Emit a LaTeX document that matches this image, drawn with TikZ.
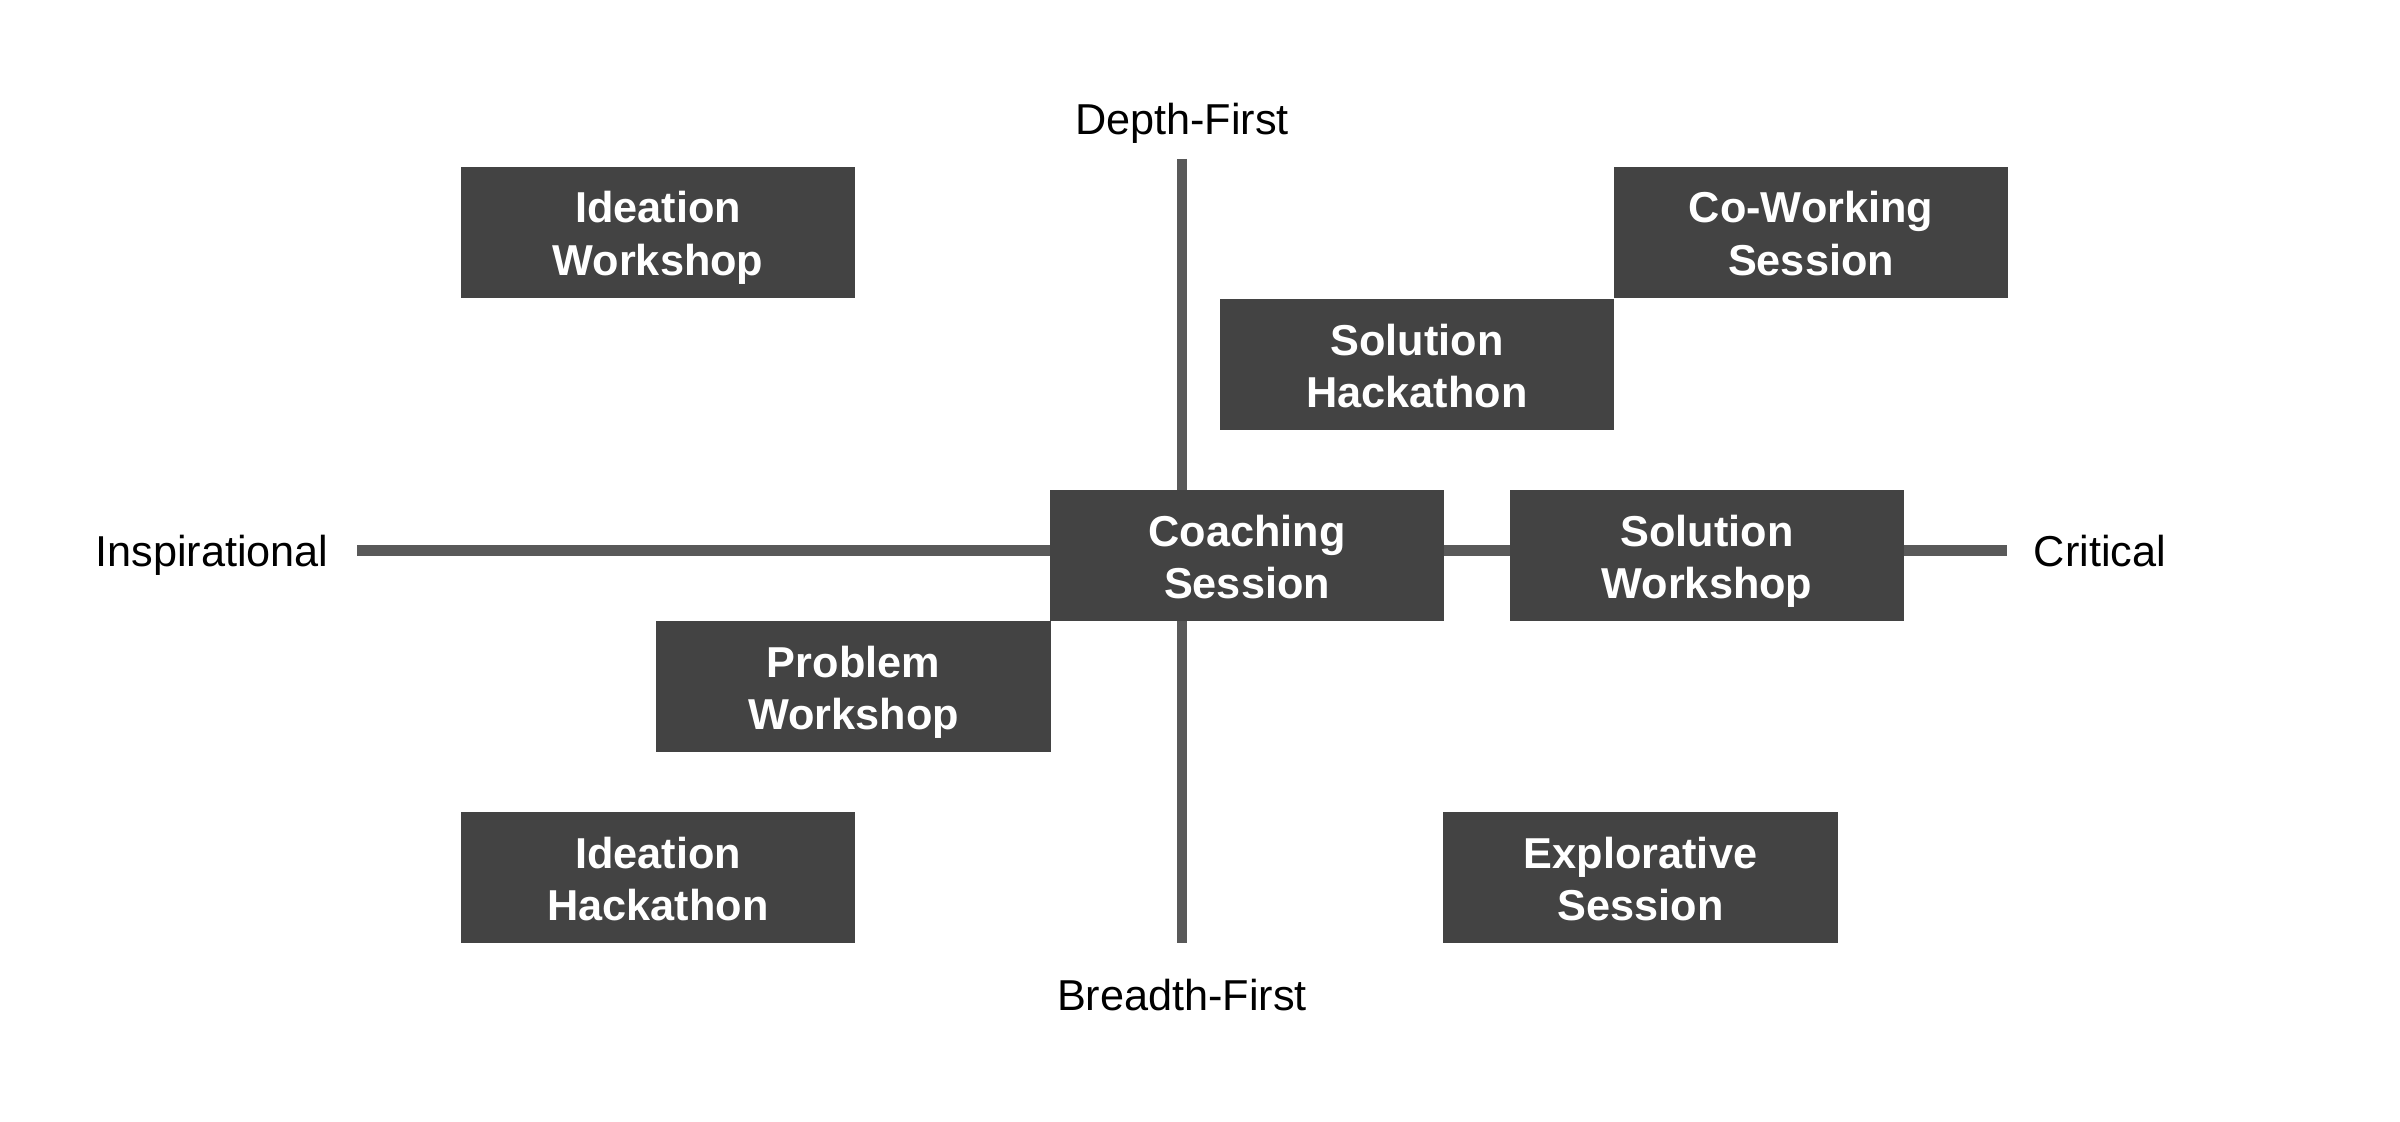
\documentclass[tikz,border=0pt]{standalone}
\usepackage{fontspec}
\setmainfont{Liberation Sans}
\usepackage{xcolor}
\definecolor{boxfill}{HTML}{434343}
\definecolor{axisgray}{HTML}{595959}
\newcommand{\lstrut}{\rule[-2.6pt]{0pt}{14.8pt}}

\begin{document}
\begin{tikzpicture}[x=0.01cm,y=-0.01cm,
  card/.style={fill=boxfill,text=white,minimum width=3.94cm,minimum height=1.31cm,
    inner sep=0pt,align=center,font=\fontsize{12.3}{15}\selectfont\bfseries},
  axislbl/.style={anchor=base,inner sep=0pt,font=\fontsize{12.3}{15}\selectfont}]
  \useasboundingbox (0,0) rectangle (2400,1122);

  % The two axes
  \coordinate (west) at (357,550.5);
  \coordinate (east) at (2007,550.5);
  \coordinate (north) at (1182,159);
  \coordinate (south) at (1182,943);
  \draw[axisgray,line width=0.105cm] (west) -- (east);
  \draw[axisgray,line width=0.105cm] (north) -- (south);

  % Axis labels
  \node[axislbl] (depth) at (1182,135) {Depth-First};
  \node[axislbl] (breadth) at (1182,1010) {Breadth-First};
  \node[axislbl] (inspo) at (212,567) {Inspirational};
  \node[axislbl] (crit) at (2100,567) {Critical};

  % Session formats
  \foreach \nm/\cx/\cy/\la/\lb in {ideaws/658/232.5/Ideation/Workshop,
      cowork/1811/232.5/Co-Working/Session, solhack/1417/364.5/Solution/Hackathon,
      coach/1247/555.5/Coaching/Session, solws/1707/555.5/Solution/Workshop,
      probws/853.5/686.5/Problem/Workshop, ideahack/658/877.5/Ideation/Hackathon,
      explore/1640.5/877.5/Explorative/Session} {
    \node[card] (\nm) at (\cx,\cy) {\lstrut\la\\\lstrut\lb};
  }
\end{tikzpicture}
\end{document}
